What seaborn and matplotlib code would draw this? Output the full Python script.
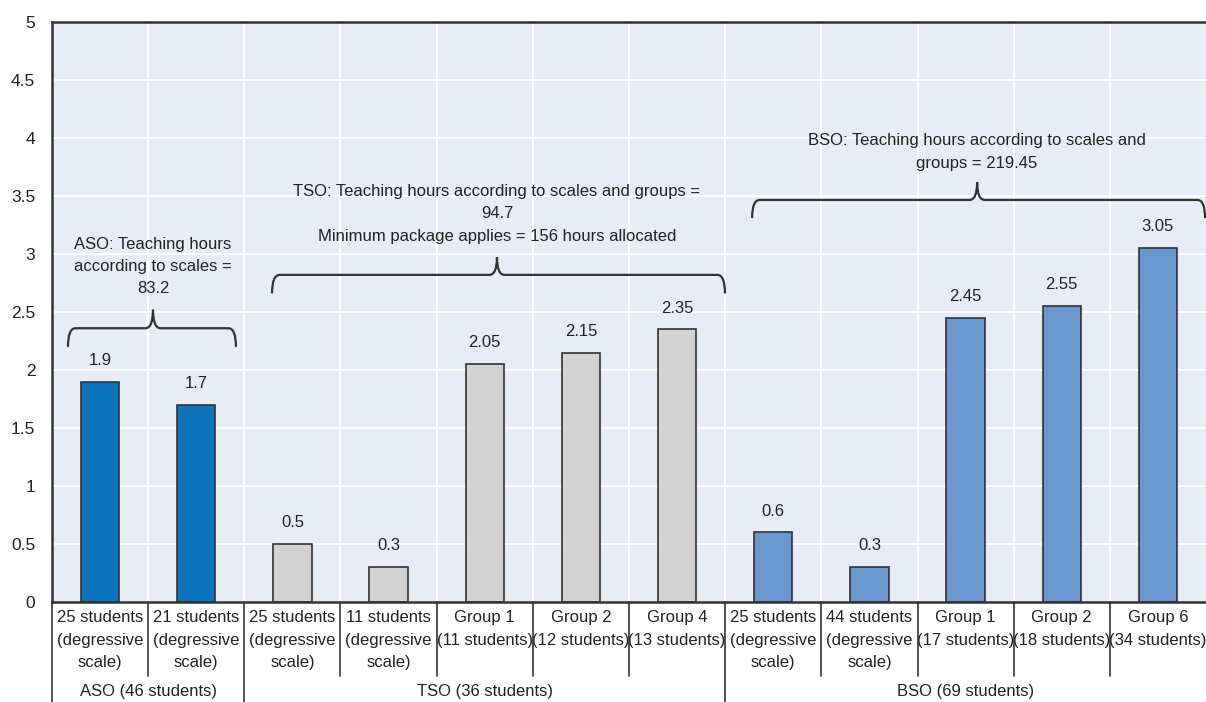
import pandas as pd
import matplotlib.pyplot as plt
import seaborn as sns
from matplotlib.path import Path
from matplotlib.patches import PathPatch
import matplotlib.transforms as mtransforms

# datos
grupos = ["ASO", "ASO", "TSO", "TSO", "TSO", "TSO", "TSO", "BSO", "BSO", "BSO", "BSO", "BSO"]
etiquetas = [
    "25 students\n(degressive\nscale)", "21 students\n(degressive\nscale)",
    "25 students\n(degressive\nscale)", "11 students\n(degressive\nscale)",
    "Group 1\n(11 students)", "Group 2\n(12 students)", "Group 4\n(13 students)",
    "25 students\n(degressive\nscale)", "44 students\n(degressive\nscale)",
    "Group 1\n(17 students)", "Group 2\n(18 students)", "Group 6\n(34 students)",
]
valores = [1.9, 1.7, 0.5, 0.3, 2.05, 2.15, 2.35, 0.6, 0.3, 2.45, 2.55, 3.05]
nombres_grupo = ["ASO (46 students)", "TSO (36 students)", "BSO (69 students)"]
textos_llave = [
    "ASO: Teaching hours\naccording to scales =\n83.2",
    "TSO: Teaching hours according to scales and groups =\n94.7\nMinimum package applies = 156 hours allocated",
    "BSO: Teaching hours according to scales and\ngroups = 219.45",
]

colores = {"ASO": "#0b72bb", "TSO": "#d3d3d3", "BSO": "#6b97cf"}

df = pd.DataFrame({"id": [f"c{i}" for i in range(len(valores))],
                   "grupo": grupos, "valor": valores})

sns.set_style("white")
plt.rcParams['font.family'] = ['Liberation Sans', 'DejaVu Sans']
plt.rcParams['text.color'] = '#222222'
FS = 12
LS = 1.6

fig = plt.figure(figsize=(12.06, 7.02), dpi=100)
ax = fig.add_axes([52 / 1206, 1 - 602 / 702, 1 - 52 / 1206, 580 / 702])
ax.set_facecolor("#e7ecf6")

sns.barplot(data=df, x="id", y="valor", hue="grupo", palette=colores, dodge=False,
            saturation=1, width=0.4, edgecolor="#333333", linewidth=1.2,
            legend=False, ax=ax)

for cont in ax.containers:
    ax.bar_label(cont, fmt="%g", padding=10, fontsize=FS, color="#222222")

ax.set_xlim(-0.5, 11.5)
ax.set_ylim(0, 5)
ax.set_yticks([i * 0.5 for i in range(11)])
ax.set_yticklabels(["0", "0.5", "1", "1.5", "2", "2.5", "3", "3.5", "4", "4.5", "5"])
ax.tick_params(axis="y", direction="in", length=5, width=1.2, color="#333333", pad=12,
               labelsize=FS + 0.5, labelcolor="#222222")
ax.set_xticks(range(len(etiquetas)))
ax.set_xticklabels(etiquetas)
ax.tick_params(axis="x", length=0, pad=6, labelsize=FS, labelcolor="#222222")
plt.setp(ax.get_xticklabels(), linespacing=LS)
ax.set_xlabel("")
ax.set_ylabel("")

# rejilla
for y in [i * 0.5 for i in range(1, 10)]:
    ax.axhline(y, color="white", lw=1.5, zorder=0)
for x in [i + 0.5 for i in range(11)]:
    ax.axvline(x, color="white", lw=1.5, zorder=0)

for s in ["left", "bottom", "top"]:
    ax.spines[s].set_color("#333333")
    ax.spines[s].set_linewidth(1.8)
ax.spines["right"].set_visible(False)

# separadores bajo el eje
trans = mtransforms.blended_transform_factory(ax.transData, ax.transAxes)
for i in range(12):
    x = i - 0.5
    fondo = -0.1724 if i in (0, 2, 7) else -0.1276
    ax.plot([x, x], [0, fondo], transform=trans, color="#333333", lw=1.2, clip_on=False)

for nombre, xc in zip(nombres_grupo, [0.5, 4, 9]):
    ax.text(xc, -0.1535, nombre, transform=trans, ha="center", va="center", fontsize=FS)


def llave(x0, x1, xm, y_fin, y_h, y_punta, r=0.08):
    verts = [(x0, y_fin), (x0, y_h), (x0 + r, y_h),
             (xm - r, y_h), (xm, y_h), (xm, y_punta),
             (xm, y_h), (xm + r, y_h),
             (x1 - r, y_h), (x1, y_h), (x1, y_fin)]
    codes = [Path.MOVETO, Path.CURVE3, Path.CURVE3,
             Path.LINETO, Path.CURVE3, Path.CURVE3,
             Path.CURVE3, Path.CURVE3,
             Path.LINETO, Path.CURVE3, Path.CURVE3]
    ax.add_patch(PathPatch(Path(verts, codes), fill=False, edgecolor="#333333", lw=1.6, zorder=3))


llave(-0.334, 1.413, 0.55, 2.2, 2.36, 2.52)
llave(1.788, 6.498, 4.127, 2.66, 2.82, 2.97)
llave(6.78, 11.49, 9.12, 3.31, 3.466, 3.62)

for txt, xc, yc in zip(textos_llave, [0.55, 4.127, 9.12], [2.89, 3.345, 3.88]):
    ax.text(xc, yc, txt, ha="center", va="center", fontsize=FS, linespacing=LS)

fig.savefig("out.png", dpi=100)
